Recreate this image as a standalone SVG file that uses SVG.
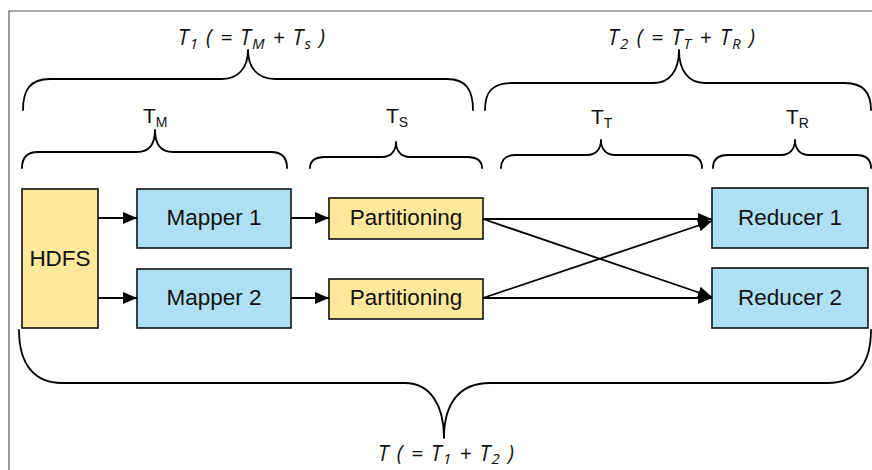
<svg xmlns="http://www.w3.org/2000/svg" width="872" height="470" viewBox="0 0 872 470">
  <defs>
    <marker id="arrow" markerUnits="userSpaceOnUse" markerWidth="14" markerHeight="12" refX="14" refY="6" orient="auto">
      <path d="M0,0 L14,6 L0,12 Z" fill="#000"/>
    </marker>
    <style>
      .frame { fill: none; stroke: #5a5a5a; stroke-width: 1.2; }
      .brace { fill: none; stroke: #000; stroke-width: 1.8; stroke-linejoin: round; stroke-linecap: round; }
      .yellow { fill: #fde89c; stroke: #111; stroke-width: 1.6; }
      .blue { fill: #aee0f4; stroke: #111; stroke-width: 1.6; }
      .box-label { font-family: "Liberation Sans", Arial, sans-serif; font-size: 22.5px; fill: #111; text-anchor: middle; }
      .conn { stroke: #000; stroke-width: 1.8; fill: none; }
      .formula { font-family: "Open Sans", "Liberation Sans", sans-serif; font-style: italic; font-size: 21px; fill: #111; }
      .sub-i { font-size: 15px; }
      .tlabel { font-family: "Liberation Sans", Arial, sans-serif; font-size: 21px; fill: #111; }
      .sub { font-size: 14px; }
    </style>
  </defs>

  <!-- outer frame edges -->
  <path class="frame" d="M9,470 L9,11 L872,11"/>

  <!-- braces -->
  <g id="braces">
    <!-- T1 -->
    <path class="brace" d="M23,110 C23,90 30,79 50,79 L222,79 C238,79 248,68 248,50 C248,68 258,79 275,79 L447,79 C466,79 473,90 473,110"/>
    <!-- T2 -->
    <path class="brace" d="M485,110 C485,92 492,83 512,83 L654,83 C670,83 679,70 679,50 C679,70 688,83 705,83 L845,83 C863,83 871,92 871,110"/>
    <!-- TM -->
    <path class="brace" d="M22,168 C22,158 27,152 38,152 L137,152 C149,152 155,144 155,130 C155,144 161,152 173,152 L271,152 C282,152 287,158 287,168"/>
    <!-- TS -->
    <path class="brace" d="M310,168 C310,161 315,157 325,157 L382,157 C391,157 396,151 396,142 C396,151 401,157 410,157 L467,157 C477,157 482,161 482,168"/>
    <!-- TT -->
    <path class="brace" d="M501,168 C501,160 506,155 516,155 L587,155 C596,155 601,149 601,140 C601,149 606,155 615,155 L687,155 C697,155 702,160 702,168"/>
    <!-- TR -->
    <path class="brace" d="M713,168 C713,160 718,155 728,155 L781,155 C790,155 795,149 795,140 C795,149 800,155 809,155 L856,155 C866,155 871,160 871,168"/>
    <!-- T total -->
    <path class="brace" d="M19,330 C19,365 35,383 62,383 L405,383 C430,383 444,405 444,438 C444,405 458,383 490,383 L828,383 C855,383 871,365 871,330"/>
  </g>

  <!-- brace labels -->
  <g id="labels">
    <text class="formula" x="178" y="45" textLength="147" lengthAdjust="spacing">T<tspan class="sub-i" dy="4">1</tspan><tspan dy="-4"> ( = T</tspan><tspan class="sub-i" dy="4">M</tspan><tspan dy="-4"> + T</tspan><tspan class="sub-i" dy="4">s</tspan><tspan dy="-4"> )</tspan></text>
    <text class="formula" x="608" y="45" textLength="147" lengthAdjust="spacing">T<tspan class="sub-i" dy="4">2</tspan><tspan dy="-4"> ( = T</tspan><tspan class="sub-i" dy="4">T</tspan><tspan dy="-4"> + T</tspan><tspan class="sub-i" dy="4">R</tspan><tspan dy="-4"> )</tspan></text>
    <text class="formula" x="378" y="461" textLength="136" lengthAdjust="spacing">T ( = T<tspan class="sub-i" dy="3">1</tspan><tspan dy="-3"> + T</tspan><tspan class="sub-i" dy="3">2</tspan><tspan dy="-3"> )</tspan></text>
    <text class="tlabel" x="143" y="123">T<tspan class="sub" dy="4">M</tspan></text>
    <text class="tlabel" x="386" y="123">T<tspan class="sub" dy="4">S</tspan></text>
    <text class="tlabel" x="591" y="124">T<tspan class="sub" dy="4">T</tspan></text>
    <text class="tlabel" x="786" y="124">T<tspan class="sub" dy="4">R</tspan></text>
  </g>

  <!-- nodes -->
  <g id="hdfs">
    <rect class="yellow" x="22" y="189" width="76" height="139"/>
    <text class="box-label" x="60" y="266">HDFS</text>
  </g>
  <g id="mapper1">
    <rect class="blue" x="137" y="189" width="154" height="59"/>
    <text class="box-label" x="214" y="225">Mapper 1</text>
  </g>
  <g id="mapper2">
    <rect class="blue" x="137" y="269" width="154" height="59"/>
    <text class="box-label" x="214" y="305">Mapper 2</text>
  </g>
  <g id="partitioning1">
    <rect class="yellow" x="329" y="198" width="154" height="41"/>
    <text class="box-label" x="406" y="225">Partitioning</text>
  </g>
  <g id="partitioning2">
    <rect class="yellow" x="329" y="279" width="154" height="40"/>
    <text class="box-label" x="406" y="305">Partitioning</text>
  </g>
  <g id="reducer1">
    <rect class="blue" x="712" y="188" width="156" height="60"/>
    <text class="box-label" x="790" y="225">Reducer 1</text>
  </g>
  <g id="reducer2">
    <rect class="blue" x="712" y="268" width="156" height="60"/>
    <text class="box-label" x="790" y="305">Reducer 2</text>
  </g>

  <!-- connectors -->
  <g id="connectors">
    <line class="conn" x1="98" y1="218" x2="137" y2="218" marker-end="url(#arrow)"/>
    <line class="conn" x1="98" y1="298" x2="137" y2="298" marker-end="url(#arrow)"/>
    <line class="conn" x1="291" y1="218" x2="329" y2="218" marker-end="url(#arrow)"/>
    <line class="conn" x1="291" y1="298" x2="329" y2="298" marker-end="url(#arrow)"/>
    <line class="conn" x1="483" y1="219" x2="712" y2="219" marker-end="url(#arrow)"/>
    <line class="conn" x1="483" y1="298" x2="712" y2="298" marker-end="url(#arrow)"/>
    <line class="conn" x1="483" y1="219" x2="712" y2="297" marker-end="url(#arrow)"/>
    <line class="conn" x1="483" y1="298" x2="712" y2="221" marker-end="url(#arrow)"/>
  </g>
</svg>
